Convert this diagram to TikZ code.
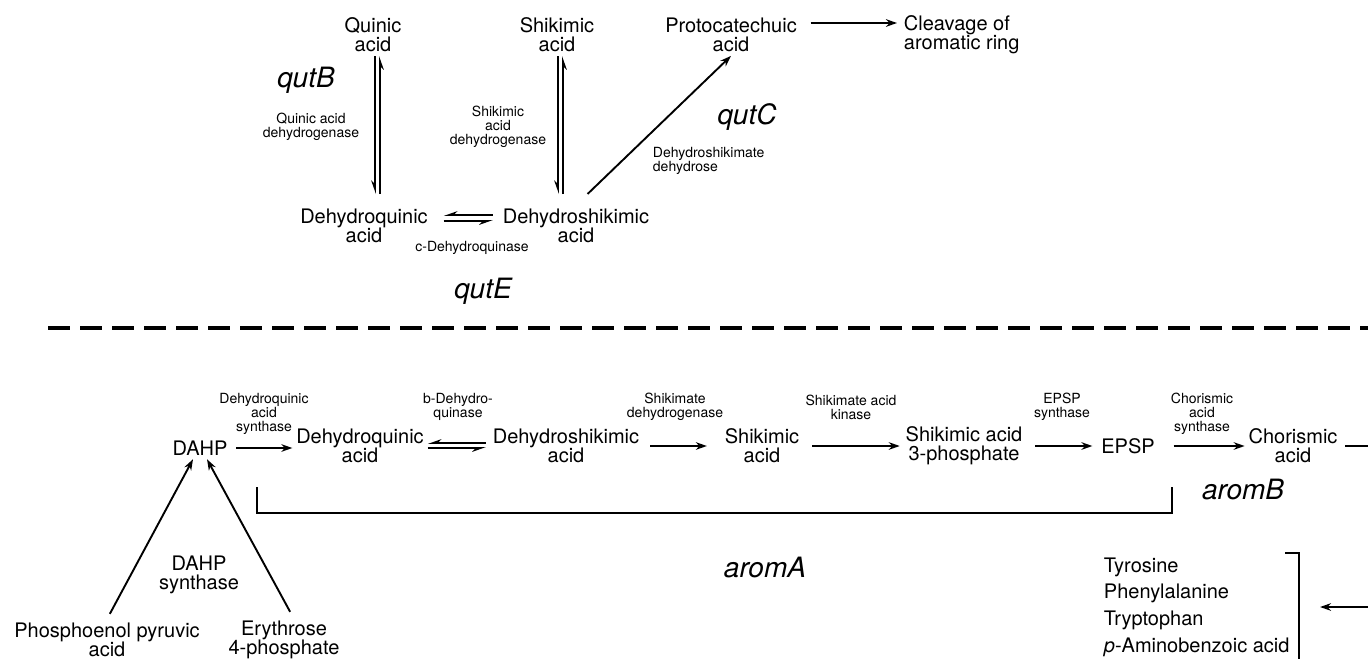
\documentclass[tikz,border=0pt]{standalone}
\usepackage{fontspec}
\setmainfont{TeX Gyre Heros}
\usetikzlibrary{arrows.meta}

\begin{document}
\begin{tikzpicture}[x=0.5pt,y=-0.5pt,->,>={Stealth[length=5.5pt,width=3.8pt]},
    line width=0.95pt,
    chem node/.style={align=center,inner sep=1.5pt,
      font=\fontsize{10}{9.5}\selectfont},
    enz node/.style={align=center,inner sep=1pt,
      font=\fontsize{7}{7}\selectfont},
    gene node/.style={inner sep=1pt,font=\fontsize{14}{14}\selectfont\itshape},
    half arrow/.style={-{Stealth[harpoon,swap,length=5.5pt,width=3.8pt]}}]
  \useasboundingbox (0,0) rectangle (1368,658);

  % quinic acid pathway
  \node[chem node] (QA) at (373,35) {Quinic\\acid};
  \node[chem node] (SA) [node distance=92pt, right of=QA] {Shikimic\\acid};
  \node[chem node] (PA) [node distance=87pt, right of=SA] {Protocatechuic\\acid};
  \node[chem node,align=left,anchor=west] (CL) at (900,35) {Cleavage of\\aromatic ring};
  \node[chem node] (DQ) at (364,226) {Dehydroquinic\\acid};
  \node[chem node] (DS) [node distance=106pt, right of=DQ] {Dehydroshikimic\\acid};

  \node[enz node] (QDH) at (311,127) {Quinic acid\\dehydrogenase};
  \node[enz node] (SDH) at (498,127) {Shikimic\\acid\\dehydrogenase};
  \node[enz node,align=left,anchor=west] (DSD) at (650,161) {Dehydroshikimate\\dehydrose};
  \node[enz node] (CDQ) at (472,248) {c-Dehydroquinase};
  \node[gene node] (qutB) at (306,80) {qutB};
  \node[gene node] (qutC) at (747,117) {qutC};
  \node[gene node] (qutE) at (483,291) {qutE};

  \draw[half arrow,shorten >=5.5pt] ([xshift=1pt]QA.south) -- ([xshift=1pt]QA.south |- DQ.north);
  \draw[half arrow,shorten <=5.5pt] ([xshift=3.5pt]QA.south |- DQ.north) -- ([xshift=3.5pt]QA.south);
  \draw[half arrow,shorten >=5.5pt] ([xshift=0.5pt]SA.south) -- ([xshift=0.5pt]SA.south |- DS.north);
  \draw[half arrow,shorten <=5.5pt] ([xshift=3pt]SA.south |- DS.north) -- ([xshift=3pt]SA.south);
  \draw[half arrow,shorten <=6pt,shorten >=3pt] ([yshift=2.5pt]DQ.east) -- ([yshift=2.5pt]DQ.east -| DS.west);
  \draw[half arrow,shorten <=3pt,shorten >=6pt] ([yshift=5.5pt]DQ.east -| DS.west) -- ([yshift=5.5pt]DQ.east);
  \draw[shorten <=8pt] (DS.north) -- (PA.south);
  \draw[shorten <=5pt,shorten >=1.5pt] ([yshift=6pt]PA.east) -- ([yshift=6pt]PA.east -| CL.west);

  % divider
  \coordinate (divL) at (48,328);
  \coordinate (divR) at (1368,328);
  \draw[-,line width=2pt,dash pattern=on 11pt off 5pt] (divL) -- (divR);

  % shikimate pathway
  \node[chem node] (DAHP) at (200,448) {DAHP};
  \node[chem node] (DQb) at (360,446) {Dehydroquinic\\acid};
  \node[chem node] (DSb) [node distance=103pt, right of=DQb] {Dehydroshikimic\\acid};
  \node[chem node] (SKb) [node distance=98pt, right of=DSb] {Shikimic\\acid};
  \node[chem node] (S3P) [node distance=101pt, right of=SKb] {Shikimic acid\\3-phosphate};
  \node[chem node] (EPSP) [node distance=82pt, right of=S3P] {EPSP};
  \node[chem node] (CH) [node distance=82.5pt, right of=EPSP] {Chorismic\\acid};
  \node[chem node] (PEP) at (107,640) {Phosphoenol pyruvic\\acid};
  \node[chem node] (E4P) at (284,640) {Erythrose\\4-phosphate};
  \node[chem node] (DAHPS) at (199,575) {DAHP\\synthase};
  \node[chem node,align=left,anchor=west,font=\fontsize{10}{13.3}\selectfont] (AA) at (1100,607)
    {Tyrosine\\Phenylalanine\\Tryptophan\\\textit{p}-Aminobenzoic acid};

  \node[enz node] (DQS) at (264,414) {Dehydroquinic\\acid\\synthase};
  \node[enz node] (BDQ) at (458,407) {b-Dehydro-\\quinase};
  \node[enz node] (SDHb) at (675,407) {Shikimate\\dehydrogenase};
  \node[enz node] (SAK) at (851,407) {Shikimate acid\\kinase};
  \node[enz node] (EPS) at (1062,407) {EPSP\\synthase};
  \node[enz node] (CAS) at (1202,414) {Chorismic\\acid\\synthase};
  \node[gene node] (aromA) at (765,567) {aromA};
  \node[gene node] (aromB) at (1243,489) {aromB};

  \draw[shorten <=2.5pt] (DAHP.east) -- (DAHP.east -| DQb.west);
  \draw[half arrow,shorten >=1.5pt] ([yshift=-1pt]DQb.east) -- ([yshift=-1pt]DQb.east -| DSb.west);
  \draw[half arrow,shorten <=1.5pt] ([yshift=1.5pt]DQb.east -| DSb.west) -- ([yshift=1.5pt]DQb.east);
  \draw[shorten <=3.5pt,shorten >=7pt] (DSb) -- (SKb);
  \draw[shorten <=4.5pt,shorten >=1pt] (SKb) -- (S3P);
  \draw[shorten <=4.5pt,shorten >=2.5pt] (S3P) -- (EPSP);
  \draw[shorten <=7.5pt] (EPSP) -- (CH);
  \coordinate (CHout) at (1368,446);
  \draw[-,shorten <=2pt] (CH.east) -- (CHout);
  \draw[shorten <=3pt] (PEP.north) -- ([xshift=-3.5pt]DAHP.south);
  \draw[shorten <=3pt] ([xshift=4.5pt]E4P.north) -- ([xshift=3.5pt]DAHP.south);

  % aromA span and end products
  \draw[-] (257,487) |- (1172,513) -- (1172,487);
  \draw[-] (1285,553) -- (1299,553) -- (1299,660);
  \coordinate (inR) at (1368,607);
  \coordinate (inL) at (1320,607);
  \draw (inR) -- (inL);
\end{tikzpicture}
\end{document}
